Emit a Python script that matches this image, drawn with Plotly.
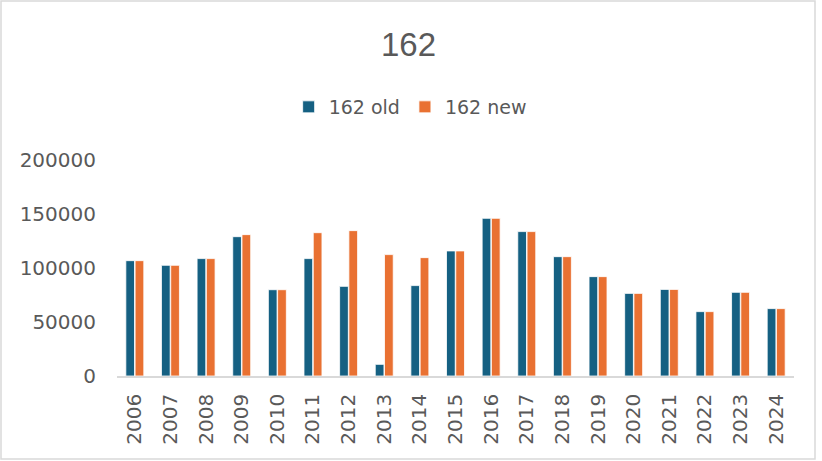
import plotly.graph_objects as go

years = [str(y) for y in range(2006, 2025)]
old_vals = [106800, 102500, 108700, 129000, 79900, 108700, 83000, 10800, 83700,
            115800, 146000, 133700, 110500, 92000, 76500, 80200, 59600, 77500, 62400]
new_vals = [106800, 102500, 108700, 130900, 79900, 132700, 134600, 112400, 109600,
            115800, 146000, 133700, 110500, 92000, 76500, 80200, 59600, 77500, 62400]
y_ticks = [0, 50000, 100000, 150000, 200000]

W, H = 822, 461
L, R, T, B = 117, 28, 160, 85
pw, ph = W - L - R, H - T - B

def px_x(p):
    return (p - L) / pw

def px_y(p):
    return (H - B - p) / ph

fig = go.Figure()
fig.add_trace(go.Bar(x=years, y=old_vals, name="162 old", marker=dict(color="#156082", line=dict(color="white", width=0.8))))
fig.add_trace(go.Bar(x=years, y=new_vals, name="162 new", marker=dict(color="#E97132", line=dict(color="white", width=0.8))))

font_fam = "DejaVu Sans, sans-serif"
fig.update_layout(
    width=W, height=H,
    margin=dict(l=L, r=R, t=T, b=B, autoexpand=False),
    paper_bgcolor="white", plot_bgcolor="white",
    barmode="group", bargap=0.48, bargroupgap=0.06,
    title=dict(text="162", x=0.497, xanchor="center", y=1 - 44 / H, yanchor="middle",
               font=dict(family="Liberation Sans, Arial, sans-serif", size=33, color="#595959")),
    legend=dict(orientation="h", x=0.433, xanchor="center", y=px_y(107), yanchor="middle",
                font=dict(family=font_fam, size=19, color="#595959"), itemwidth=30,
                traceorder="normal"),
    font=dict(family=font_fam, color="#595959"),
    xaxis=dict(tickangle=-90, tickfont=dict(size=20, color="#595959"), showline=True,
               linecolor="#D9D9D9", linewidth=1.5, ticks="outside", ticklen=8,
               tickcolor="rgba(0,0,0,0)", showgrid=False, automargin=False),
    yaxis=dict(range=[0, 200000], tickvals=y_ticks, ticktext=[str(v) for v in y_ticks],
               tickfont=dict(size=20, color="#595959"), showgrid=False, zeroline=False,
               ticks="outside", ticklen=16, tickcolor="rgba(0,0,0,0)", showline=False,
               automargin=False),
    shapes=[dict(type="rect", xref="paper", yref="paper",
                 x0=px_x(1), x1=px_x(815), y0=px_y(459), y1=px_y(1),
                 line=dict(color="#D9D9D9", width=1.5))],
)

fig.write_html("out.html", config={"displayModeBar": False},
               post_script="document.body.style.margin='0';")
